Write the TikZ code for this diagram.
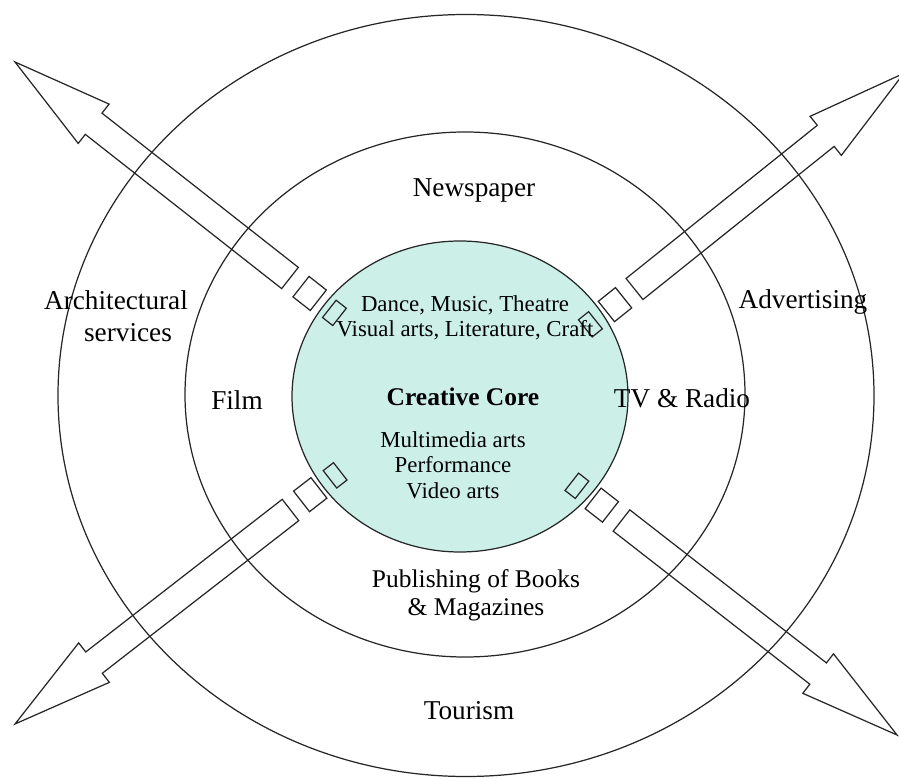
\documentclass[tikz,border=0pt]{standalone}
\usepackage{fontspec}
\setmainfont{Liberation Serif}
\definecolor{coreteal}{RGB}{204,240,232}
% striped block arrow: #1 inner end of the shaft, #2 angle, #3 length
\newcommand\stripearrow[3]{%
  \begin{scope}[shift={#1},rotate=#2]
    \draw (-50,-11) rectangle (-63,11);
    \draw (-14,-13) rectangle (-36,13);
    \draw (0,-13.5) -- ({#3-100},-13.5) -- ({#3-100},-25) -- (#3,0)
      -- ({#3-100},25) -- ({#3-100},13.5) -- (0,13.5) -- cycle;
  \end{scope}}

\begin{document}
\begin{tikzpicture}[x=0.02cm,y=0.02cm,line width=0.7pt,draw=black!85,
    lbl/.style={font=\fontsize{15.5}{18}\selectfont,align=center},
    corelbl/.style={font=\fontsize{13}{14.5}\selectfont,align=center}]
    \useasboundingbox (0,0) rectangle (899,778);
    % rings
    \draw (466,382.5) ellipse [x radius=408, y radius=381];
    \draw (465,383.5) ellipse [x radius=280, y radius=262.5];
    \draw[fill=coreteal] (460,381.5) ellipse [x radius=168, y radius=155.5];
    % arrows
    \stripearrow{(290,500)}{141.85}{349.7}
    \stripearrow{(634.5,489)}{38.69}{345}
    \stripearrow{(290.5,268)}{217.84}{348.8}
    \stripearrow{(621.5,257.5)}{-37.9}{349.2}
    % outer ring
    \node[lbl] (arch) at (116,478) {Architectural};
    \node[lbl] (archsvc) at (128,445) {services};
    \node[lbl] (advert) at (803,476) {Advertising};
    \node[lbl] (tourism) at (469,67) {Tourism};
    % middle ring
    \node[lbl] (news) at (474,588) {Newspaper};
    \node[lbl] (film) at (237,378) {Film};
    \node[lbl] (tvradio) at (682,380) {TV \& Radio};
    \node[lbl,font=\fontsize{14.5}{16}\selectfont] (publish) at (476,183) {Publishing of Books\\\& Magazines};
    % core
    \node[corelbl] (arts) at (465,460) {Dance, Music, Theatre\\Visual arts, Literature, Craft};
    \node[corelbl,font=\fontsize{14.5}{16}\selectfont\bfseries] (core) at (463,381) {Creative Core};
    \node[corelbl] (media) at (453,313) {Multimedia arts\\Performance\\Video arts};
\end{tikzpicture}
\end{document}
